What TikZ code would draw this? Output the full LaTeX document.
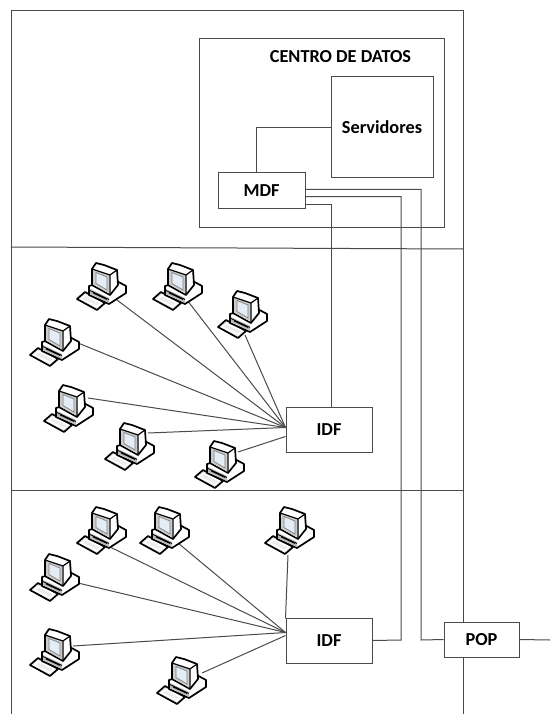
\documentclass[tikz,border=0pt]{standalone}
\usepackage{xcolor}
\usepackage{fontspec}
\setmainfont{Carlito}
\usepackage{tikz}
\usetikzlibrary{calc,positioning}
\definecolor{wireclr}{HTML}{4A4A4A}
\definecolor{screenclr}{HTML}{E4ECF6}
\tikzset{
  x=1pt, y=-1pt,
  wire/.style = {draw=wireclr, line width=1pt},
  labeltext/.style = {font=\bfseries\fontsize{18.3}{20}\selectfont},
  box/.style = {draw=wireclr, line width=1pt, fill=white, align=center, inner sep=0pt, labeltext},
  pcbox/.style = {rectangle, minimum size=48pt, inner sep=0pt},
  pcline/.style = {draw=black, line width=1.7pt, line join=round},
  pics/computer/.style = {code={
    \draw[pcline, fill=gray!15] (-24,11) -- (-16,4) -- (4,15) -- (-4,22) -- cycle;
    \draw[white, line width=1.4pt] (-20,11) -- (-15,7.5) -- (0,15) -- (-4,18.5) -- cycle;
    \draw[pcline, fill=white] (-12,-2) -- (-12,7) -- (8,16) -- (25,5) -- (25,-2) -- (12,-9) -- cycle;
    \fill[gray!55] (-11,1) -- (8,10) -- (8,15) -- (-11,6) -- cycle;
    \draw[black, line width=0.8pt] (-11,2.5) -- (8,11.5) (-8,5) -- (6,11.5);
    \draw[pcline, fill=white] (-9,-19) -- (-5,-25) -- (3,-23) -- (16,-18) -- (17,-3) -- (9,7) -- (-9,-3) -- cycle;
    \fill[gray!40] (-8,-19) -- (8,-13) -- (8,5.5) -- (-8,-3.5) -- cycle;
    \fill[screenclr] (-5,-15.5) -- (6,-11) -- (6,2) -- (-5,-4.5) -- cycle;
    \draw[black, line width=1.2pt] (-9,-19) -- (9,-13) -- (16,-18) (9,-13) -- (9,7);
    \draw[gray, line width=0.7pt] (-5,-15.5) -- (6,-11) -- (6,2) -- (-5,-4.5) -- cycle;
  }}
}
\begin{document}
\begin{tikzpicture}
	\useasboundingbox (0,0) rectangle (550,714);
	\draw[wire] (11,714) -- (11,11) -- (463,11) -- (463,714);
	\draw[wire] (11,247) -- (463,249);
	\draw[wire] (11,490) -- (463,490);
	\node[box, minimum width=245pt, minimum height=188pt] (centro) at (321.5,133) {};
	\node[labeltext] (centrolabel) at (340.5,57) {CENTRO DE DATOS};
	\node[box, minimum width=102pt, minimum height=101pt] (servidores) at (382,127.5) {Servidores};
	\node[box, minimum width=87pt, minimum height=35pt] (mdf) at (261.5,190.5) {MDF};
	\node[box, minimum width=86pt, minimum height=45pt] (idfA) at (329,429.5) {IDF};
	\node[box, minimum width=86pt, minimum height=45pt] (idfB) at (329,640.5) {IDF};
	\node[box, minimum width=75pt, minimum height=35pt] (pop) at (481.5,639.5) {POP};
	\coordinate (turnPop) at (421,640);
	\coordinate (turnIdf) at (401,640);
	\coordinate (popOut) at (550,640);
	\draw[wire] (servidores.west) -| ([xshift=-5.5pt]mdf.north);
	\draw[wire] ([yshift=1.2pt]mdf.east) -| (turnPop) -- (pop.west);
	\draw[wire] ([yshift=-6.2pt]mdf.east) -| (turnIdf) -- (idfB.east);
	\draw[wire] ([yshift=-13.5pt]mdf.east) -| ([xshift=2pt]idfA.north);
	\draw[wire] (pop.east) -- (popOut);
	\foreach \pcname/\pcx/\pcy/\dx/\dy/\idf/\ey in {
		pcA/101/288/16/12/idfA/2, pcB/177/288/10/12/idfA/2, pcC/242/316/3/19/idfA/2,
		pcD/54/344/24/-1/idfA/2, pcE/68/410/20/-12/idfA/2, pcF/129/448/19/-15/idfA/2,
		pcG/219/466/19/-14/idfA/-7,
		pcH/101/532/9/15/idfB/8, pcI/164/532/14/11/idfB/8, pcJ/289/532/-1/23/idfB/22,
		pcK/54/579/24/4/idfB/8, pcL/54/654/19/-8/idfB/8, pcM/181/682/21/-9/idfB/5}{
		\node[pcbox] (\pcname) at (\pcx,\pcy) {};
		\draw[wire] ([shift={(\dx,\dy)}]\pcname.center) -- ([yshift=\ey pt]\idf.west);
		\pic at (\pcname) {computer};
	}
\end{tikzpicture}
\end{document}
